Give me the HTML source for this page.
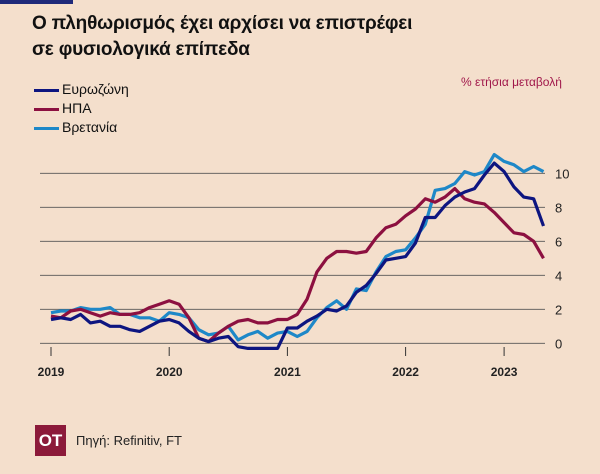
<!DOCTYPE html>
<html><head><meta charset="utf-8">
<style>
body{margin:0;width:600px;height:474px;background:#f4dfcc;font-family:"Liberation Sans","DejaVu Sans",sans-serif;overflow:hidden;position:relative}
.t{position:absolute;left:32px;color:#111;font-size:19px;line-height:26px;font-weight:bold;letter-spacing:-0.2px}
</style></head><body>
<div style="position:absolute;left:0;top:0;width:73px;height:4px;background:#1f2a7a"></div>
<div class="t" style="top:11px">Ο πληθωρισμός έχει αρχίσει να επιστρέφει<br>σε φυσιολογικά επίπεδα</div>
<div style="position:absolute;left:461px;top:75px;font-size:12px;color:#a0174a">% ετήσια μεταβολή</div>
<div style="position:absolute;left:34px;top:80px;font-size:14px;line-height:19px;color:#111">
<div><span style="display:inline-block;width:25px;height:3px;background:#0d1580;vertical-align:middle;margin-right:3px"></span>Ευρωζώνη</div>
<div><span style="display:inline-block;width:25px;height:3px;background:#8c1040;vertical-align:middle;margin-right:3px"></span>ΗΠΑ</div>
<div><span style="display:inline-block;width:25px;height:3px;background:#1e88c8;vertical-align:middle;margin-right:3px"></span>Βρετανία</div>
</div>
<svg id="chart" width="600" height="474" style="position:absolute;left:0;top:0"></svg>
<div style="position:absolute;left:35px;top:425px;width:31px;height:31px;background:#8c1a3a;color:#fff;font-weight:bold;font-size:17px;line-height:31px;text-align:center">ΟΤ</div>
<div style="position:absolute;left:76px;top:433px;font-size:13px;color:#222">Πηγή: Refinitiv, FT</div>
<script>
const yTicks=[0,2,4,6,8,10];
const xTickLabels=["2019","2020","2021","2022","2023"];
const xTickMonths=[0,12,24,36,46];
const euro=[1.4,1.5,1.4,1.7,1.2,1.3,1.0,1.0,0.8,0.7,1.0,1.3,1.4,1.2,0.7,0.3,0.1,0.3,0.4,-0.2,-0.3,-0.3,-0.3,-0.3,0.9,0.9,1.3,1.6,2.0,1.9,2.2,3.0,3.4,4.1,4.9,5.0,5.1,5.9,7.4,7.4,8.1,8.6,8.9,9.1,9.9,10.6,10.1,9.2,8.6,8.5,6.9];
const usa=[1.6,1.5,1.9,2.0,1.8,1.6,1.8,1.7,1.7,1.8,2.1,2.3,2.5,2.3,1.5,0.3,0.1,0.6,1.0,1.3,1.4,1.2,1.2,1.4,1.4,1.7,2.6,4.2,5.0,5.4,5.4,5.3,5.4,6.2,6.8,7.0,7.5,7.9,8.5,8.3,8.6,9.1,8.5,8.3,8.2,7.7,7.1,6.5,6.4,6.0,5.0];
const uk=[1.8,1.9,1.9,2.1,2.0,2.0,2.1,1.7,1.7,1.5,1.5,1.3,1.8,1.7,1.5,0.8,0.5,0.6,1.0,0.2,0.5,0.7,0.3,0.6,0.7,0.4,0.7,1.5,2.1,2.5,2.0,3.2,3.1,4.2,5.1,5.4,5.5,6.2,7.0,9.0,9.1,9.4,10.1,9.9,10.1,11.1,10.7,10.5,10.1,10.4,10.1];
const NS="http://www.w3.org/2000/svg";
const svg=document.getElementById('chart');
const x=m=>51+m*9.85;
const y=v=>343.3-v*17;
function mk(t,a){const e=document.createElementNS(NS,t);for(const k in a)e.setAttribute(k,a[k]);svg.appendChild(e);return e;}
yTicks.forEach(v=>{
 const l=mk('line',{x1:40,x2:545,y1:y(v),y2:y(v),stroke:'#555','stroke-width':0.8});
 
 
 const t=mk('text',{x:555,y:y(v)+5,'font-size':13,fill:'#222'});t.textContent=v;
 
 
});
xTickMonths.forEach((m,i)=>{
 const l=mk('line',{x1:x(m),x2:x(m),y1:347,y2:356,stroke:'#333','stroke-width':1});
 
 
 const t=mk('text',{x:x(m),y:376,'font-size':12,'font-weight':'bold','text-anchor':'middle',fill:'#222'});t.textContent=xTickLabels[i];
 
 
});
[[uk,'#1e88c8','uk'],[usa,'#8c1040','usa'],[euro,'#0d1580','eurozone']].forEach(([d,c,n])=>{
 const p=mk('polyline',{points:d.map((v,i)=>x(i)+','+y(v)).join(' '),fill:'none',stroke:c,'stroke-width':3.2,'stroke-linejoin':'round'});
 
 
});
</script>
</body></html>
